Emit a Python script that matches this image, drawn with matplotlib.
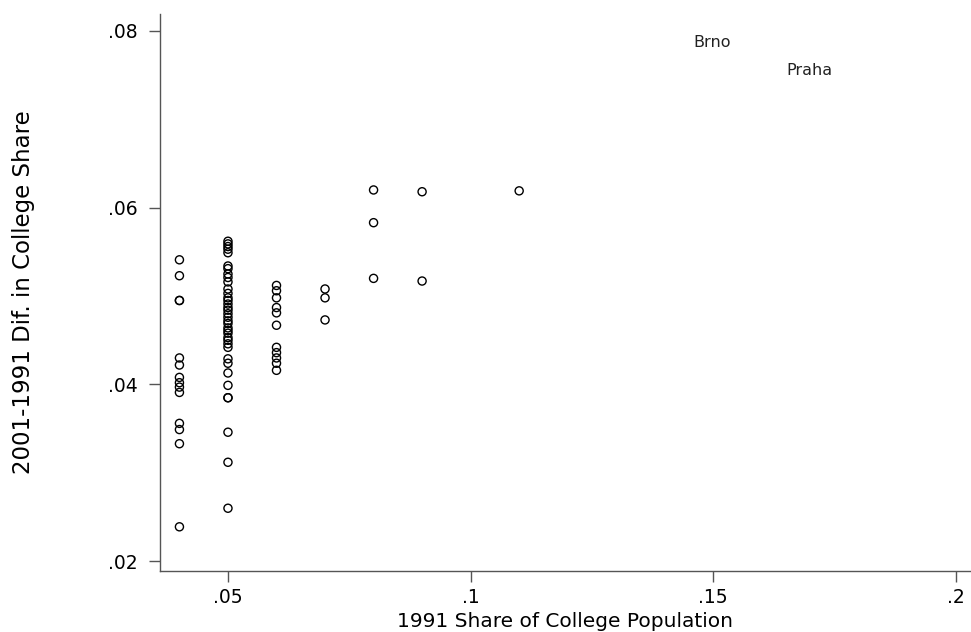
import matplotlib
matplotlib.use("Agg")
import matplotlib.pyplot as plt

plt.rcParams["font.family"] = ["DejaVu Sans"]

# 1991 college share (x) and 2001-1991 difference (y) per district
share_1991 = (
    [0.04] * 14
    + [0.05] * 37
    + [0.06] * 11
    + [0.07] * 3
    + [0.08] * 3
    + [0.09] * 2
    + [0.11]
)
diff_2001_1991 = [
    # .04
    0.0541, 0.0523, 0.0495, 0.0495, 0.0430, 0.0422, 0.0408, 0.0402, 0.0397,
    0.0391, 0.0356, 0.0349, 0.0333, 0.0239,
    # .05
    0.0562, 0.0559, 0.0556, 0.0553, 0.0549,
    0.0534, 0.0531, 0.0525, 0.0521, 0.0516,
    0.0508, 0.0503, 0.0498,
    0.0495, 0.0491, 0.0487, 0.0484, 0.0480, 0.0476, 0.0472, 0.0469, 0.0464, 0.0461,
    0.0458, 0.0453, 0.0450, 0.0446, 0.0442,
    0.0429, 0.0424, 0.0413, 0.0399, 0.0385, 0.0385, 0.0346, 0.0312, 0.0260,
    # .06
    0.0512, 0.0506, 0.0498, 0.0487, 0.0481, 0.0467, 0.0442, 0.0436, 0.0430,
    0.0424, 0.0416,
    # .07
    0.0508, 0.0498, 0.0473,
    # .08
    0.0620, 0.0583, 0.0520,
    # .09
    0.0618, 0.0517,
    # .11
    0.0619,
]

city_names = ["Brno", "Praha"]
city_share = [0.1497, 0.1698]
city_diff = [0.0787, 0.0755]

x_ticks = [0.05, 0.10, 0.15, 0.20]
x_tick_labels = [".05", ".1", ".15", ".2"]
y_ticks = [0.02, 0.04, 0.06, 0.08]
y_tick_labels = [".02", ".04", ".06", ".08"]

fig = plt.figure(figsize=(9.71, 6.32), dpi=100)
ax = fig.add_axes([0.1643, 0.0965, 0.8347, 0.8813])

# hollow circles standing in for Stata's "o" marker labels
ax.scatter(share_1991, diff_2001_1991, s=34, marker="o",
           facecolors="none", edgecolors="black", linewidths=1.0)
for name, x, y in zip(city_names, city_share, city_diff):
    ax.text(x, y, name, ha="center", va="center", fontsize=11.5, color="#222222")

ax.set_xlim(0.0359, 0.2029)
ax.set_ylim(0.0189, 0.0819)
ax.set_xticks(x_ticks)
ax.set_xticklabels(x_tick_labels)
ax.set_yticks(y_ticks)
ax.set_yticklabels(y_tick_labels)

ax.spines["top"].set_visible(False)
ax.spines["right"].set_visible(False)
for side in ["left", "bottom"]:
    ax.spines[side].set_color("#555555")
    ax.spines[side].set_linewidth(1.0)
ax.tick_params(direction="out", length=8, width=1, color="#555555",
               labelsize=13.5)
ax.tick_params(axis="y", pad=8)
ax.tick_params(axis="x", pad=4)

ax.set_xlabel("1991 Share of College Population", fontsize=14.5)
ax.set_ylabel("2001-1991 Dif. in College Share", fontsize=16.5)
ax.xaxis.set_label_coords(0.5, -0.074)
ax.yaxis.set_label_coords(-0.154, 0.5)

fig.savefig("out.png", dpi=100, facecolor="white")
